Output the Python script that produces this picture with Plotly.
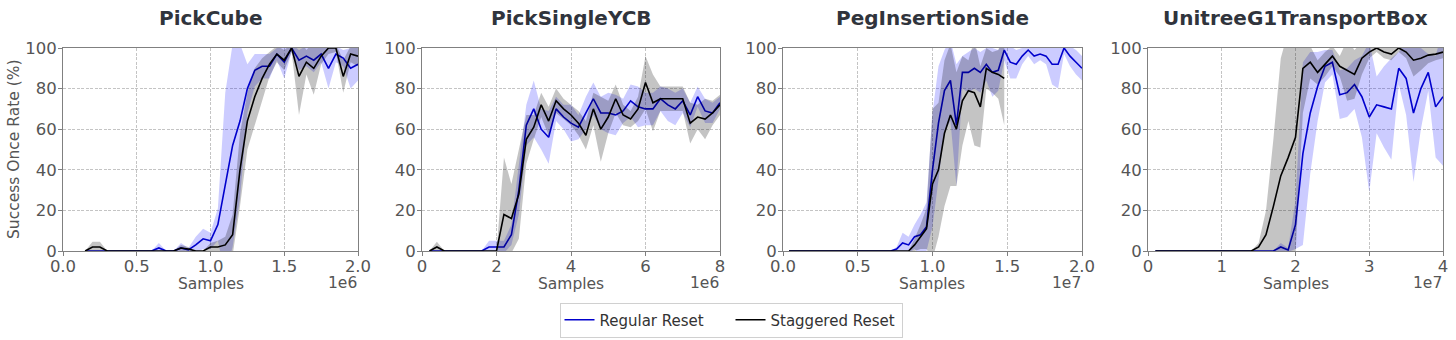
import plotly.graph_objects as go

# ---------------------------------------------------------------- data
TASKS = ["PickCube", "PickSingleYCB", "PegInsertionSide", "UnitreeG1TransportBox"]
SERIES = ["Regular Reset", "Staggered Reset"]

# evaluation points: (first sample count, interval, count) per task
EVAL_GRID = {
    "PickCube": (0.15e6, 0.05e6, 38),
    "PickSingleYCB": (0.2e6, 0.2e6, 40),
    "PegInsertionSide": (0.04e7, 0.04e7, 50),
    "UnitreeG1TransportBox": (0.1e7, 0.1e7, 40),
}

# PickCube
pickcube_regular_mean = [0, 0, 0, 0, 0, 0, 0, 0, 0, 0,
                         1.5, 0, 0, 1.5, 0.5, 3, 6, 5, 13, 33,
                         52, 64, 80, 89, 91, 91, 97, 93, 100, 94,
                         96, 94, 97, 90, 97, 95, 90, 92]
pickcube_regular_std = [0, 0, 0, 0, 0, 0, 0, 0, 0, 0,
                        2.5, 0, 0, 2.5, 1, 4, 5, 4, 8, 45,
                        50, 38, 12, 8, 6, 6, 3, 8, 2, 5,
                        5, 6, 4, 10, 4, 4, 10, 8]
pickcube_staggered_mean = [0, 2, 2, 0, 0, 0, 0, 0, 0, 0,
                           0, 0, 0, 1.5, 1, 0, 0, 2, 2, 3,
                           8, 40, 64, 76, 85, 92, 97, 94, 100, 86,
                           93, 90, 96, 100, 100, 86, 97, 96]
pickcube_staggered_std = [0, 2.5, 2.5, 0, 0, 0, 0, 0, 0, 0,
                          0, 0, 0, 1.5, 1, 0, 0, 2, 3, 4,
                          10, 18, 14, 14, 10, 6, 4, 5, 2, 19,
                          6, 13, 4, 3, 2, 8, 4, 5]

# PickSingleYCB
ycb_regular_mean = [0, 0, 0, 0, 0, 0, 0, 0, 2, 2,
                    2, 8, 30, 62, 70, 60, 56, 70, 66, 63,
                    61, 68, 75, 68, 68, 67, 69, 74, 71, 70,
                    70, 75, 72, 70, 74, 67, 76, 69, 68, 73]
ycb_regular_std = [0, 0, 0, 0, 0, 0, 0, 0, 3, 3,
                   3, 5, 12, 10, 14, 10, 13, 6, 6, 9,
                   6, 8, 8, 8, 10, 10, 6, 8, 10, 8,
                   8, 6, 8, 8, 6, 6, 5, 6, 5, 3]
ycb_staggered_mean = [0, 2, 0, 0, 0, 0, 0, 0, 0, 0,
                      18, 16, 28, 55, 61, 72, 64, 74, 70, 67,
                      63, 57, 70, 60, 66, 75, 67, 65, 70, 83,
                      73, 75, 75, 75, 75, 63, 66, 65, 68, 72]
ycb_staggered_std = [0, 2.5, 0, 0, 0, 0, 0, 0, 0, 0,
                     28, 17, 22, 12, 6, 6, 7, 6, 5, 5,
                     6, 7, 8, 16, 8, 7, 5, 4, 6, 13,
                     14, 6, 6, 6, 6, 10, 6, 10, 6, 5]

# PegInsertionSide
peg_regular_mean = [0, 0, 0, 0, 0, 0, 0, 0, 0, 0,
                    0, 0, 0, 0, 0, 0, 0, 0, 1, 4,
                    3, 7, 8, 12, 40, 63, 79, 84, 62, 88,
                    88, 90, 88, 92, 88, 89, 99, 93, 92, 96,
                    99, 96, 97, 96, 92, 92, 100, 96, 93, 90]
peg_regular_std = [0, 0, 0, 0, 0, 0, 0, 0, 0, 0,
                   0, 0, 0, 0, 0, 0, 0, 0, 1, 5,
                   4, 6, 10, 12, 28, 28, 20, 20, 30, 8,
                   10, 10, 10, 8, 12, 10, 5, 8, 7, 4,
                   3, 4, 3, 4, 10, 12, 3, 5, 6, 6]
peg_staggered_mean = [0, 0, 0, 0, 0, 0, 0, 0, 0, 0,
                      0, 0, 0, 0, 0, 0, 0, 0, 0, 0,
                      0, 3, 7, 11, 33, 40, 58, 67, 60, 74,
                      79, 78, 71, 90, 88, 87, 85]
peg_staggered_std = [0, 0, 0, 0, 0, 0, 0, 0, 0, 0,
                     0, 0, 0, 0, 0, 0, 0, 0, 0, 0,
                     0, 3, 6, 10, 37, 33, 36, 35, 28, 22,
                     15, 26, 20, 10, 10, 12, 23]

# UnitreeG1TransportBox
g1_regular_mean = [0, 0, 0, 0, 0, 0, 0, 0, 0, 0,
                   0, 0, 0, 0, 0, 0, 0, 2, 0.5, 13,
                   48, 68, 81, 91, 93, 77, 78, 82, 76, 66,
                   72, 71, 70, 90, 85, 68, 80, 88, 71, 76]
g1_regular_std = [0, 0, 0, 0, 0, 0, 0, 0, 0, 0,
                  0, 0, 0, 0, 0, 0, 0, 2, 1, 12,
                  45, 30, 17, 8, 6, 12, 12, 12, 20, 37,
                  14, 20, 25, 8, 18, 34, 20, 9, 25, 34]
g1_staggered_mean = [0, 0, 0, 0, 0, 0, 0, 0, 0, 0,
                     0, 0, 0, 0, 2, 8, 22, 37, 46, 56,
                     90, 93, 88, 92, 96, 91, 89, 87, 95, 98,
                     100, 98, 97, 100, 98, 94, 95, 96.5, 97, 98]
g1_staggered_std = [0, 0, 0, 0, 0, 0, 0, 0, 0, 0,
                    0, 0, 0, 0, 2, 12, 33, 58, 62, 58,
                    22, 8, 6, 6, 5, 5, 15, 12, 8, 3,
                    2, 3, 3, 2, 3, 8, 6, 4, 3, 3]

RESULTS = {
    "PickCube": [(pickcube_regular_mean, pickcube_regular_std),
                 (pickcube_staggered_mean, pickcube_staggered_std)],
    "PickSingleYCB": [(ycb_regular_mean, ycb_regular_std),
                      (ycb_staggered_mean, ycb_staggered_std)],
    "PegInsertionSide": [(peg_regular_mean, peg_regular_std),
                         (peg_staggered_mean, peg_staggered_std)],
    "UnitreeG1TransportBox": [(g1_regular_mean, g1_regular_std),
                              (g1_staggered_mean, g1_staggered_std)],
}

# x axis ticks per task
X_TICK_VALUES = {
    "PickCube": [0, 0.5e6, 1.0e6, 1.5e6, 2.0e6],
    "PickSingleYCB": [0, 2e6, 4e6, 6e6, 8e6],
    "PegInsertionSide": [0, 0.5e7, 1.0e7, 1.5e7, 2.0e7],
    "UnitreeG1TransportBox": [0, 1e7, 2e7, 3e7, 4e7],
}
X_TICK_LABELS = {
    "PickCube": ["0.0", "0.5", "1.0", "1.5", "2.0"],
    "PickSingleYCB": ["0", "2", "4", "6", "8"],
    "PegInsertionSide": ["0.0", "0.5", "1.0", "1.5", "2.0"],
    "UnitreeG1TransportBox": ["0", "1", "2", "3", "4"],
}
X_SCALE_LABELS = {"PickCube": "1e6", "PickSingleYCB": "1e6",
                  "PegInsertionSide": "1e7", "UnitreeG1TransportBox": "1e7"}
Y_TICKS = [0, 20, 40, 60, 80, 100]

# ---------------------------------------------------------------- style
W, H = 1456, 340
FONT = "DejaVu Sans"
LINE_COLORS = ["#0000cd", "#000000"]
FILL_COLORS = ["rgba(0,0,255,0.2)", "rgba(0,0,0,0.23)"]
SPINE = "#808080"
TICK_FONT = dict(family=FONT, size=16.5, color="#555555")

# plot-area pixel boxes (left, right) and shared (top, bottom)
X_BOXES = [(63, 358), (422, 720), (783, 1082), (1148, 1443)]
TOP, BOTTOM = 48, 251


def px_x(p):
    return p / W


def px_y(p):
    return 1 - p / H


fig = go.Figure()
layout = dict(
    width=W, height=H,
    margin=dict(l=0, r=0, t=0, b=0, autoexpand=False),
    paper_bgcolor="white", plot_bgcolor="white",
    font=dict(family=FONT, color="#555555"),
    showlegend=True,
    legend=dict(orientation="h", x=px_x(731), xanchor="center",
                y=px_y(320), yanchor="middle",
                bordercolor="#d0d0d0", borderwidth=1,
                font=dict(family=FONT, size=15, color="#333333"),
                itemwidth=30, entrywidthmode="pixels", entrywidth=126),
)
annotations = []

for i, task in enumerate(TASKS):
    n = i + 1
    xa = "x" if n == 1 else f"x{n}"
    ya = "y" if n == 1 else f"y{n}"
    first, interval, count = EVAL_GRID[task]
    for s, (mean, std) in enumerate(RESULTS[task]):
        xs = [first + interval * k for k in range(len(mean))]
        lower = [m - d for m, d in zip(mean, std)]
        upper = [m + d for m, d in zip(mean, std)]
        fig.add_trace(go.Scatter(x=xs, y=lower, xaxis=xa, yaxis=ya, mode="lines",
                                 line=dict(width=0), showlegend=False, hoverinfo="skip"))
        fig.add_trace(go.Scatter(x=xs, y=upper, xaxis=xa, yaxis=ya, mode="lines",
                                 line=dict(width=0), fill="tonexty",
                                 fillcolor=FILL_COLORS[s], showlegend=False,
                                 hoverinfo="skip"))
        fig.add_trace(go.Scatter(x=xs, y=mean, xaxis=xa, yaxis=ya, mode="lines",
                                 line=dict(color=LINE_COLORS[s], width=1.6),
                                 name=SERIES[s], legendgroup=SERIES[s],
                                 showlegend=(i == 0)))

    left, right = X_BOXES[i]
    xmax = X_TICK_VALUES[task][-1]
    axis_common = dict(showline=True, mirror=True, linecolor=SPINE, linewidth=1,
                       ticks="outside", ticklen=4, tickcolor=SPINE, tickwidth=1,
                       showgrid=True, gridcolor="#c4c4c4", griddash="3px,1.5px",
                       gridwidth=0.8, zeroline=False, tickfont=TICK_FONT)
    layout["xaxis" if n == 1 else f"xaxis{n}"] = dict(
        domain=[px_x(left), px_x(right)], anchor=ya, range=[0, xmax],
        tickmode="array", tickvals=X_TICK_VALUES[task],
        ticktext=X_TICK_LABELS[task], ticklabelstandoff=-4, **axis_common)
    layout["yaxis" if n == 1 else f"yaxis{n}"] = dict(
        domain=[px_y(BOTTOM), px_y(TOP)], anchor=xa, range=[0, 100],
        tickmode="array", tickvals=Y_TICKS, ticklabelstandoff=-2, **axis_common)

    cx = (left + right) / 2
    annotations.append(dict(text=f"<b>{task}</b>", x=px_x(cx), y=px_y(18),
                            xref="paper", yref="paper", showarrow=False,
                            xanchor="center", yanchor="middle",
                            font=dict(family=FONT, size=20, color="#30343c")))
    annotations.append(dict(text="Samples", x=px_x(cx), y=px_y(284),
                            xref="paper", yref="paper", showarrow=False,
                            xanchor="center", yanchor="middle",
                            font=dict(family=FONT, size=15.5, color="#555555")))
    annotations.append(dict(text=X_SCALE_LABELS[task], x=px_x(right + 1), y=px_y(283),
                            xref="paper", yref="paper", showarrow=False,
                            xanchor="right", yanchor="middle",
                            font=dict(family=FONT, size=15.5, color="#555555")))

annotations.append(dict(text="Success Once Rate (%)", x=px_x(14), y=px_y(149),
                        xref="paper", yref="paper", showarrow=False, textangle=-90,
                        xanchor="center", yanchor="middle",
                        font=dict(family=FONT, size=15.5, color="#555555")))
layout["annotations"] = annotations

fig.update_layout(**layout)
fig.write_html("out.html")
